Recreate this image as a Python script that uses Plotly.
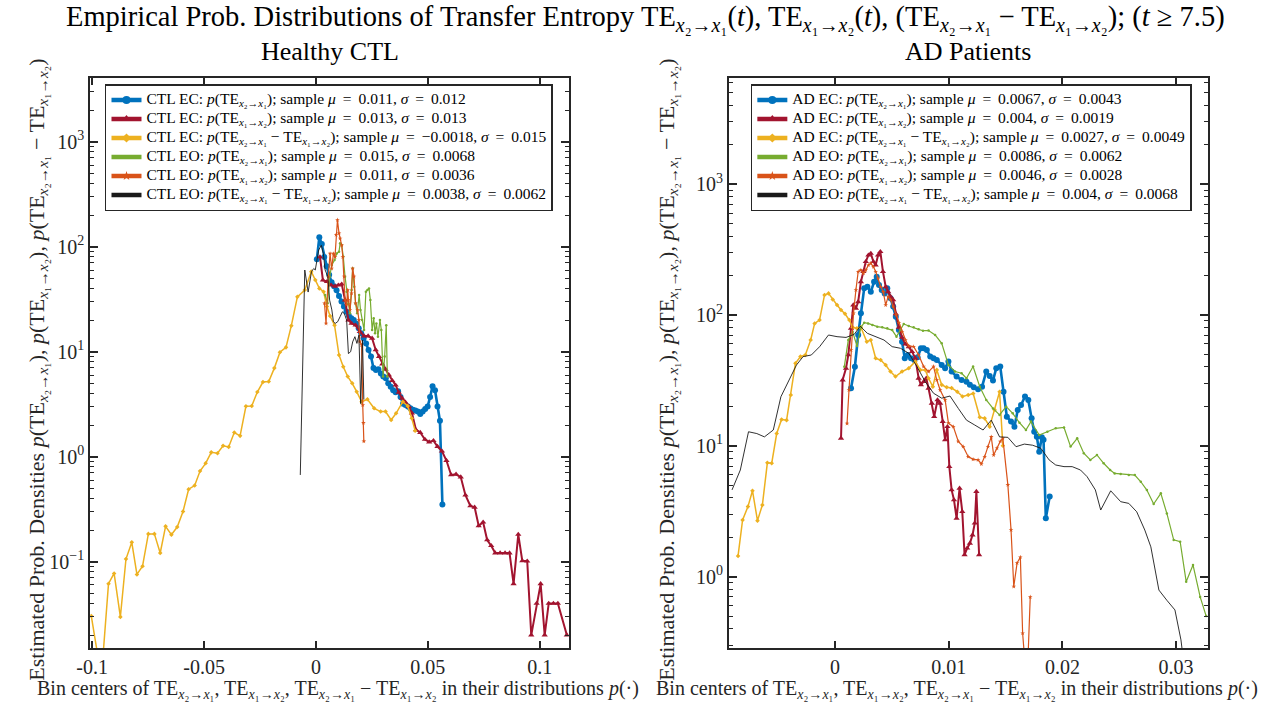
import plotly.graph_objects as go

# ---------------- data : left panel (Healthy CTL) ----------------
ctl_ec_x21_x = [0.0004,0.0015,0.0026,0.0037,0.0048,0.0059,0.0070,0.0081,0.0092,0.0103,0.0114,0.0125,0.0136,0.0147,0.0158,0.0169,0.0180,0.0191,0.0202,0.0213,0.0224,0.0235,0.0246,0.0257,0.0268,0.0279,0.0290,0.0301,0.0312,0.0323,0.0334,0.0345,0.0356,0.0367,0.0378,0.0389,0.0400,0.0411,0.0422,0.0433,0.0444,0.0455,0.0466,0.0477,0.0488,0.0499,0.0510,0.0521,0.0532,0.0543,0.0554,0.0565]
ctl_ec_x21_y = [76,123,106,80,65,54,46,42,38.5,34,30,27,24,22,20.8,20,18.6,16.7,15,13.4,12,10.4,9.0,7.0,6.7,6.8,6.2,5.8,5.6,5.0,4.65,4.3,4.1,4.2,3.7,3.2,3.1,3.0,2.9,2.8,2.75,2.7,2.55,2.7,2.85,3.0,3.7,4.7,4.3,3.0,2.2,0.35]

ctl_ec_x12_x = [0.0018,0.0031,0.0049,0.0068,0.0085,0.0100,0.0115,0.0130,0.0145,0.0159,0.0177,0.0196,0.0215,0.0233,0.0251,0.0267,0.0282,0.0296,0.0311,0.0326,0.0341,0.0356,0.0370,0.0385,0.0400,0.0415,0.0429,0.0447,0.0466,0.0487,0.0506,0.0525,0.0543,0.0563,0.0583,0.0604,0.0626,0.0647,0.0668,0.0690,0.0709,0.0727,0.0747,0.0765,0.0783,0.0801,0.0823,0.0845,0.0865,0.0883,0.0904,0.0922,0.0944,0.0962,0.0986,0.1004,0.1022,0.1040,0.1061,0.1081,0.1121]
ctl_ec_x12_y = [80,48,46.5,43,42,43,44,31,20,18.6,17.9,15.5,14.1,14.1,13.4,10.4,9.0,7.6,6.8,6.0,5.3,4.8,4.1,3.6,3.3,3.0,2.6,1.80,1.70,1.46,1.38,1.42,1.25,1.13,0.92,0.67,0.68,0.64,0.43,0.34,0.33,0.22,0.238,0.161,0.142,0.121,0.121,0.121,0.121,0.0615,0.182,0.102,0.101,0.020,0.040,0.0615,0.020,0.040,0.040,0.040,0.020]

ctl_ec_diff_x = [-0.1004,-0.0978,-0.0950,-0.0927,-0.0902,-0.0874,-0.0849,-0.0823,-0.0800,-0.0775,-0.0749,-0.0722,-0.0696,-0.0672,-0.0646,-0.0620,-0.0594,-0.0569,-0.0542,-0.0518,-0.0493,-0.0468,-0.0440,-0.0415,-0.0390,-0.0365,-0.0339,-0.0313,-0.0287,-0.0262,-0.0237,-0.0211,-0.0186,-0.0161,-0.0134,-0.0110,-0.0083,-0.0050,-0.0021,-0.0003,0.0015,0.0034,0.0049,0.0063,0.0083,0.0103,0.0122,0.0142,0.0162,0.0182,0.0204,0.0230,0.0260,0.0289,0.0311,0.0336,0.0358,0.0388,0.0410,0.0428,0.0443]
ctl_ec_diff_y = [0.0304,0.014,0.014,0.0617,0.0773,0.0298,0.106,0.153,0.0756,0.0906,0.184,0.184,0.121,0.217,0.181,0.214,0.301,0.490,0.531,0.731,0.865,1.10,1.08,1.27,1.24,1.70,1.58,3.02,3.04,4.13,5.14,5.21,6.98,9.89,11.0,17.7,33.3,38.7,57.9,48.2,40.1,37.3,26.9,21.9,17.9,9.3,7.2,5.8,5.0,4.16,3.34,3.52,2.89,2.69,2.69,2.24,2.59,3.34,3.04,2.32,1.77]

ctl_eo_x21_x = [0.0041,0.0052,0.0061,0.0071,0.0083,0.0093,0.0103,0.0108,0.0115,0.0122,0.0130,0.0137,0.0145,0.0152,0.0159,0.0164,0.0171,0.0177,0.0184,0.0193,0.0199,0.0206,0.0215,0.0223,0.0230,0.0237,0.0243,0.0251,0.0258,0.0264,0.0270,0.0277,0.0286,0.0292,0.0300,0.0307,0.0314,0.0319]
ctl_eo_x21_y = [34.7,28.9,51.9,67,74.7,86.4,89.7,108,104,80.4,51.9,37.3,28.9,23.2,38.7,62.2,41.6,28.9,23.2,34.7,24.9,20.1,16.1,37.3,38.7,40.1,31.1,16.1,20.8,15.0,18.6,13.9,20.1,16.1,5.8,9.0,17.9,5.8]

ctl_eo_x12_x = [0.0038,0.0045,0.0055,0.0063,0.0070,0.0078,0.0085,0.0090,0.0096,0.0103,0.0108,0.0115,0.0120,0.0126,0.0130,0.0137,0.0142,0.0145,0.0152,0.0159,0.0164,0.0170,0.0177,0.0186,0.0192,0.0196,0.0204,0.0209,0.0212,0.0214]
ctl_eo_x12_y = [29,18.6,52,86,62,86,80,130,180,134,120,103,80,52,31,28,38.7,31,25,36,62,52,29,25,20,12.5,11.6,3.1,2.1,1.4]

ctl_eo_diff_x = [-0.0070,-0.0050,-0.0035,-0.0020,-0.0010,-0.0003,0.0012,0.0024,0.0033,0.0041,0.0053,0.0061,0.0071,0.0078,0.0086,0.0097,0.0108,0.0118,0.0127,0.0137,0.0145,0.0155,0.0164,0.0174,0.0183,0.0192,0.0200,0.0208,0.0214]
ctl_eo_diff_y = [0.67,60,37,58,62,60,93,103,86,60,52,31,25,19.3,18.6,19.3,21.6,24,23,20,9.6,10,12.4,13.9,12,14.4,3.2,12.9,3.5]

# ---------------- data : right panel (AD Patients) ----------------
ad_ec_x21_x = [0.0014,0.00174,0.00203,0.00227,0.00256,0.00284,0.00314,0.00343,0.00366,0.00386,0.0041,0.00436,0.00459,0.00488,0.00511,0.00534,0.00561,0.00589,0.00613,0.00639,0.00668,0.00697,0.00726,0.00755,0.00779,0.00807,0.00837,0.00866,0.00895,0.00938,0.00968,0.00997,0.01025,0.01069,0.01113,0.01156,0.01186,0.0122,0.01258,0.01293,0.0133,0.0136,0.01389,0.01418,0.01453,0.01482,0.01511,0.01548,0.01578,0.01607,0.01636,0.01671,0.017,0.01729,0.01752,0.01775,0.01796,0.01819,0.01834,0.01854,0.01888]
ad_ec_x21_y = [27.5,40.2,70.2,103,160,164,150,179,196,169,155,146,160,134,116,97,76.6,62.4,46.6,49.4,46.6,45.2,47.4,55.5,55.6,54,48,46.6,45.3,41.4,39.1,44,36.9,33.8,31.8,30.9,29.2,28,27,28.3,36.9,34.2,31.5,39.1,40.3,25.9,16.7,15.3,14,18.8,20.5,23.8,22.4,16.2,12.8,11.7,9.0,11.6,11.1,2.79,4.09]

ad_ec_x12_x = [0.00052,0.00066,0.00096,0.00116,0.0014,0.0016,0.00183,0.00203,0.00227,0.00249,0.0027,0.00293,0.00314,0.00337,0.00357,0.00378,0.00398,0.00421,0.00445,0.00467,0.00488,0.00511,0.00534,0.00561,0.00589,0.00619,0.00648,0.00677,0.00706,0.00735,0.00755,0.00779,0.00802,0.00822,0.00851,0.00872,0.00901,0.00924,0.00947,0.00968,0.00988,0.01005,0.01025,0.01046,0.01069,0.01095,0.01119,0.01139,0.01162,0.01186,0.01209,0.01229,0.01243,0.01267]
ad_ec_x12_y = [11.4,31.8,39.1,49.4,78.9,119,112,126,179,214,255,286,295,255,240,286,304,214,164,150,138,130,102,80.3,67.3,59.8,57,52.4,46.6,32.8,29.2,30.9,32.8,27.5,21.1,16.7,22.4,21.1,15.3,11.1,14,6.93,4.6,3.86,2.79,4.73,3.14,1.47,1.65,1.80,2.08,2.56,4.47,1.47]

ad_ec_diff_x = [-0.00854,-0.00814,-0.00767,-0.00727,-0.00683,-0.0064,-0.00596,-0.00558,-0.00514,-0.00471,-0.00427,-0.0039,-0.00349,-0.00305,-0.00262,-0.00215,-0.0018,-0.00137,-0.00093,-0.00058,-0.00021,0.00017,0.00052,0.00087,0.00125,0.00154,0.00192,0.00227,0.00279,0.00314,0.00357,0.00401,0.00445,0.00487,0.00531,0.00589,0.00648,0.00706,0.0075,0.00793,0.00822,0.0086,0.00895,0.00938,0.00982,0.01025,0.01075,0.01121,0.01171,0.01215,0.01273,0.01316,0.0136,0.01404,0.01447,0.01476]
ad_ec_diff_y = [1.44,2.71,3.43,4.54,2.68,3.53,7.43,7.35,12.4,15.9,15.7,24.4,42.7,48,49.4,64.3,86.1,91.4,142,146,131,119,109,102,91.4,80.4,78.9,80.4,62.4,64.3,46.6,45.2,41.4,36.9,33.8,36.9,39.1,44,38,38,32.8,28.3,38,29.2,28,27.6,25.9,23.8,24.4,25.1,16.5,16.2,14.0,18.8,25.9,10]

ad_eo_x21_x = [0.00081,0.00116,0.00154,0.00192,0.00227,0.00256,0.0029,0.00328,0.00371,0.00415,0.00459,0.00502,0.0054,0.00575,0.00604,0.00648,0.00691,0.00735,0.00773,0.00822,0.0088,0.00938,0.00997,0.01055,0.01113,0.01156,0.01214,0.01273,0.0133,0.01389,0.01447,0.01505,0.01563,0.01622,0.01679,0.01723,0.01796,0.01868,0.01941,0.02014,0.02072,0.0213,0.02188,0.02246,0.02304,0.02363,0.0242,0.0246,0.02513,0.02584,0.02637,0.0269,0.02743,0.02803,0.02866,0.02919,0.02979,0.03036,0.03089,0.03149,0.03212,0.03265]
ad_eo_x21_y = [40.2,64.3,74.5,57.9,80.4,87.1,86.1,83.7,81.3,80.4,78.9,76.6,68.2,77.5,85.2,82.2,80.4,77.6,75.7,76,70.3,60.7,41.4,36.9,35.8,32.8,40.3,28.3,22.4,19.3,17.2,19.9,17.7,15.0,13.2,15.3,12.1,12.8,13.6,13.8,9.86,11.4,8.77,7.8,8.51,7.35,6.53,6.15,6.1,5.97,5.97,5.31,4.59,3.59,4.33,3.04,1.91,1.85,0.916,1.23,0.70,0.50]

ad_eo_x12_x = [0.00105,0.00122,0.0014,0.00162,0.00183,0.00203,0.00227,0.00249,0.0027,0.00293,0.00314,0.00337,0.00357,0.00378,0.00401,0.00424,0.00445,0.00467,0.00488,0.00511,0.00537,0.00561,0.00589,0.00619,0.00648,0.00691,0.00735,0.00779,0.00822,0.00866,0.00895,0.00924,0.00968,0.00997,0.0104,0.01084,0.01127,0.01171,0.01214,0.01258,0.01287,0.01316,0.01345,0.01374,0.01395,0.01424,0.01453,0.01476,0.0152,0.01548,0.01572,0.01601,0.0163,0.0165,0.01674,0.01694,0.01717]
ad_eo_x12_y = [14.8,26.7,53.9,103,155,214,220,208,220,240,248,233,214,190,164,150,119,138,131,116,99.8,87.1,74.4,64.3,57.9,57.2,49.4,40.3,36.9,40.3,31.8,26.7,22.4,14.9,14,10.8,9.85,8.26,7.88,7.8,7.26,8.26,9.85,11.7,8.51,9.57,10.8,11.4,5.03,2.27,0.84,1.27,1.41,0.37,0.2,0.2,0.70]

ad_eo_diff_x = [-0.00907,-0.00834,-0.00762,-0.00689,-0.00622,-0.00544,-0.00477,-0.00413,-0.0034,-0.00282,-0.00209,-0.00137,-0.00058,0.00017,0.00096,0.00168,0.00221,0.00284,0.00357,0.0043,0.00502,0.00575,0.00648,0.0072,0.00793,0.00866,0.00938,0.01011,0.01084,0.01156,0.01229,0.01302,0.01374,0.01447,0.0152,0.01592,0.01665,0.01738,0.0181,0.01883,0.01941,0.02014,0.02086,0.02159,0.02217,0.0229,0.02337,0.02425,0.02513,0.02584,0.02654,0.02725,0.02778,0.02849,0.02919,0.0299,0.03043,0.0306]
ad_eo_diff_y = [4.6,6.53,12.8,12.4,11.7,13.2,23.7,30.9,41.4,48,49.4,57.1,70.2,68.2,67.3,71,82,72.3,68.2,64.3,57.2,55.6,50.9,40.3,30.9,25.2,23.1,24,19.3,15.7,14.4,13.2,15.7,11.7,11.6,9.84,10.3,10.1,9.57,7.8,7.13,6.93,6.93,6.53,5.81,4.6,3.23,4.53,3.74,3.63,3.13,2.27,1.69,0.79,0.66,0.557,0.329,0.25]

# legend statistics
ctl_labels = ["CTL EC", "CTL EC", "CTL EC", "CTL EO", "CTL EO", "CTL EO"]
ctl_mu = ["0.011", "0.013", "\u22120.0018", "0.015", "0.011", "0.0038"]
ctl_sigma = ["0.012", "0.013", "0.015", "0.0068", "0.0036", "0.0062"]
ad_labels = ["AD EC", "AD EC", "AD EC", "AD EO", "AD EO", "AD EO"]
ad_mu = ["0.0067", "0.004", "0.0027", "0.0086", "0.0046", "0.004"]
ad_sigma = ["0.0043", "0.0019", "0.0049", "0.0062", "0.0028", "0.0068"]

left_x_ticks = [-0.1, -0.05, 0, 0.05, 0.1]
left_x_text = ["-0.1", "-0.05", "0", "0.05", "0.1"]
right_x_ticks = [0, 0.01, 0.02, 0.03]
right_x_text = ["0", "0.01", "0.02", "0.03"]
left_y_ticks = [0.1, 1, 10, 100, 1000]
right_y_ticks = [1, 10, 100, 1000]

# ---------------- styling ----------------
SERIF = "Liberation Serif, DejaVu Serif, serif"
AX = "#262626"
BLUE, RED, YEL, GRN, ORG, BLK = "#0072BD", "#A2142F", "#EDB120", "#77AC30", "#D95319", "#1a1a1a"

X21 = "TE<sub><i>x</i>\u2082\u2192<i>x</i>\u2081</sub>"
X12 = "TE<sub><i>x</i>\u2081\u2192<i>x</i>\u2082</sub>"
kinds = ["<i>p</i>(" + X21 + ")", "<i>p</i>(" + X12 + ")", "<i>p</i>(" + X21 + " \u2212 " + X12 + ")",
         "<i>p</i>(" + X21 + ")", "<i>p</i>(" + X12 + ")", "<i>p</i>(" + X21 + " \u2212 " + X12 + ")"]

styles = [  # color, width, symbol, msize, legend marker size
    (BLUE, 2.6, "circle", 6, 8),
    (RED, 2.0, "triangle-up", 5.5, 8),
    (YEL, 1.5, "diamond", 3.5, 7),
    (GRN, 1.2, "circle", 2.5, 0),
    (ORG, 1.2, "star", 3.5, 7),
    (BLK, 0.9, None, 0, 0),
]

left_series = [(ctl_ec_x21_x, ctl_ec_x21_y), (ctl_ec_x12_x, ctl_ec_x12_y), (ctl_ec_diff_x, ctl_ec_diff_y),
               (ctl_eo_x21_x, ctl_eo_x21_y), (ctl_eo_x12_x, ctl_eo_x12_y), (ctl_eo_diff_x, ctl_eo_diff_y)]
right_series = [(ad_ec_x21_x, ad_ec_x21_y), (ad_ec_x12_x, ad_ec_x12_y), (ad_ec_diff_x, ad_ec_diff_y),
                (ad_eo_x21_x, ad_eo_x21_y), (ad_eo_x12_x, ad_eo_x12_y), (ad_eo_diff_x, ad_eo_diff_y)]

fig = go.Figure()
EQ = "\u2009=\u2009"

def add_panel(series, xa, ya, legend, names, mus, sigmas):
    for (x, y), (col, w, sym, ms, lms) in zip(series, styles):
        fig.add_trace(go.Scatter(
            x=x, y=y, xaxis=xa, yaxis=ya,
            mode="lines+markers" if sym else "lines",
            line=dict(color=col, width=w),
            marker=dict(symbol=sym or "circle", size=ms, color=col, line=dict(width=0)),
            showlegend=False, hoverinfo="skip"))
    for (col, w, sym, ms, lms), nm, kd, mu, sg in zip(styles, names, kinds, mus, sigmas):
        label = (f"<span style='font-size:15.5px'>{nm}: {kd}; sample <i>\u03bc</i> {EQ} {mu}, "
                 f"<i>\u03c3</i> {EQ} {sg}</span>")
        fig.add_trace(go.Scatter(
            x=[None], y=[None], xaxis=xa, yaxis=ya, legend=legend, name=label,
            mode="lines+markers" if lms else "lines",
            line=dict(color=col, width=4.5),
            marker=dict(symbol=sym or "circle", size=lms, color=col),
            showlegend=True, hoverinfo="skip"))

add_panel(left_series, "x", "y", "legend", ctl_labels, ctl_mu, ctl_sigma)
add_panel(right_series, "x2", "y2", "legend2", ad_labels, ad_mu, ad_sigma)

def minor_vals(lo, hi):
    vals = []
    for e in range(lo, hi + 1):
        for m in range(2, 10):
            vals.append(m * 10.0 ** e)
    return vals

def sup(v):
    import math
    e = int(round(math.log10(v)))
    return "10<sup>" + (str(e) if e >= 0 else "\u2212" + str(-e)) + "</sup>"

common_x = dict(showline=True, mirror="allticks", linecolor=AX, linewidth=2, ticks="inside",
                ticklen=7, tickwidth=1.5, tickcolor=AX, showgrid=False, zeroline=False,
                tickfont=dict(family=SERIF, size=20, color=AX))
common_y = dict(type="log", showline=True, mirror="allticks", linecolor=AX, linewidth=2, ticks="inside",
                ticklen=8, tickwidth=1.5, tickcolor=AX, showgrid=False, zeroline=False,
                tickfont=dict(family=SERIF, size=20, color=AX))

L = [77 / 1277, 561 / 1277]
R = [723 / 1277, 1207 / 1277]
YD = [1 - 648 / 706, 1 - 78 / 706]

legend_common = dict(yanchor="top", xanchor="left", bgcolor="white", bordercolor=AX, borderwidth=1.5,
                     itemwidth=30, tracegroupgap=0, font=dict(family=SERIF, size=10.5, color="#000"))

fig.update_layout(
    width=1277, height=706, margin=dict(l=0, r=0, t=0, b=0),
    paper_bgcolor="white", plot_bgcolor="white", hovermode=False,
    xaxis=dict(domain=L, range=[-0.1009, 0.113], tickvals=left_x_ticks, ticktext=left_x_text, anchor="y", **common_x),
    yaxis=dict(domain=YD, range=[-1.822, 3.607], tickvals=left_y_ticks, ticktext=[sup(v) for v in left_y_ticks],
               anchor="x",
               minor=dict(tickvals=minor_vals(-2, 3), ticks="inside", ticklen=4, tickwidth=1.2, tickcolor=AX, showgrid=False),
               **common_y),
    xaxis2=dict(domain=R, range=[-0.00933, 0.03279], tickvals=right_x_ticks, ticktext=right_x_text, anchor="y2", **common_x),
    yaxis2=dict(domain=YD, range=[-0.545, 3.81], tickvals=right_y_ticks, ticktext=[sup(v) for v in right_y_ticks],
                anchor="x2",
                minor=dict(tickvals=minor_vals(-1, 3), ticks="inside", ticklen=4, tickwidth=1.2, tickcolor=AX, showgrid=False),
                **common_y),
    legend=dict(x=92 / 1277, y=1 - 84 / 706, **legend_common),
    legend2=dict(x=745 / 1277, y=1 - 84 / 706, **legend_common),
)

title_txt = ("Empirical Prob. Distributions of Transfer Entropy " + X21 + "(<i>t</i>), " + X12 +
             "(<i>t</i>), (" + X21 + " \u2212 " + X12 + "); (<i>t</i> \u2265 7.5)")
ylab = ("Estimated Prob. Densities <i>p</i>(" + X21 + "), <i>p</i>(" + X12 + "), <i>p</i>(" + X21 +
        " \u2212 " + X12 + ")")
xlab = "Bin centers of " + X21 + ", " + X12 + ", " + X21 + " \u2212 " + X12 + " in their distributions <i>p</i>(\u00b7)"

ann = [
    dict(text=title_txt, x=638 / 1277, y=1 - 18 / 706, font=dict(size=28.5, color="#000")),
    dict(text="Healthy CTL", x=(L[0] + L[1]) / 2, y=1 - 51 / 706, font=dict(size=26, color="#000")),
    dict(text="AD Patients", x=(R[0] + R[1]) / 2, y=1 - 51 / 706, font=dict(size=26, color="#000")),
    dict(text=xlab, x=328 / 1277, y=1 - 689 / 706, font=dict(size=20, color=AX)),
    dict(text=xlab, x=953 / 1277, y=1 - 689 / 706, font=dict(size=20, color=AX)),
    dict(text=ylab, x=24 / 1277, y=1 - 370 / 706, textangle=-90, font=dict(size=22, color=AX)),
    dict(text=ylab, x=661 / 1277, y=1 - 370 / 706, textangle=-90, font=dict(size=22, color=AX)),
]
for a in ann:
    a["font"]["family"] = SERIF
    fig.add_annotation(xref="paper", yref="paper", xanchor="center", yanchor="middle", showarrow=False, **a)

fig.write_html("out.html", config={"displayModeBar": False})
